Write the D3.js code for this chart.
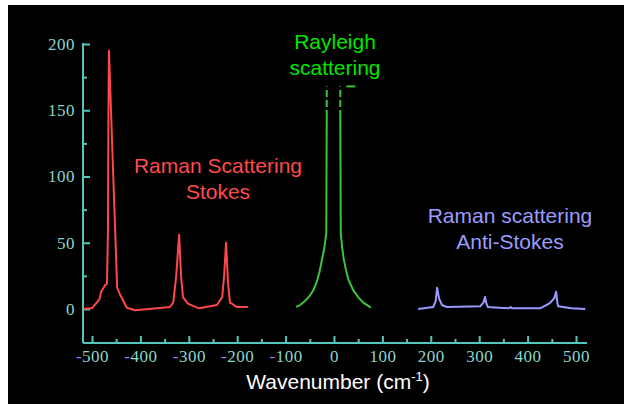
<!DOCTYPE html>
<html>
<head>
<meta charset="utf-8">
<script src="https://d3js.org/d3.v7.min.js"></script>
<style>
	body { margin: 0; background: #fff; }
	svg { display: block; }
	.tick text { font-family: "Liberation Serif", "DejaVu Serif", serif; font-size: 17px; letter-spacing: 0.5px; fill: #8cd5cb; }
	.tick line { stroke: #55c6bd; stroke-width: 2; }
	.note { font-family: "Liberation Sans", Arial, sans-serif; font-size: 21px; text-anchor: middle; }
</style>
</head>
<body>
<div id="chart"></div>
<script>
	// values
	var stokesX = [-518, -500, -485, -481, -473, -469, -467, -466, -465, -457, -448, -442, -428, -411, -339, -332, -326, -320, -316, -312, -302, -279, -242, -231, -227, -223, -219, -215, -201, -178];
	var stokesY = [0, 0.7, 7, 13, 18, 19, 60, 150, 195, 110, 16, 11, 1, -1, 1.5, 5, 25, 56, 25, 9, 4, 0.5, 3, 9, 25, 50, 20, 5, 1.5, 1.5];

	var rayLeftX = [-78, -70, -60, -50, -43, -36, -30, -25, -20, -16, -15];
	var rayLeftY = [1.5, 3, 6, 10, 14, 20, 28, 37, 46, 57, 145];
	var rayRightX = [13, 14, 17, 20, 25, 30, 40, 50, 60, 76];
	var rayRightY = [145, 57, 46, 38, 29, 22, 14, 9, 5, 1];
	var rayTopX = [-15, 13];      // off-scale part, dashed
	var rayTopY = [145, 168];

	var antiX = [174, 205, 210, 213, 217, 223, 233, 302, 309, 312, 315, 318, 340, 362, 365, 368, 426, 446, 455, 459, 461, 463, 490, 519];
	var antiY = [0, 1.5, 6, 16, 8, 3, 1.5, 2, 5, 9, 4, 1.5, 1, 0.5, 1.5, 0.5, 0.5, 4.5, 8, 13, 6, 2, 0.5, 0];

	var xTicks = [-500, -400, -300, -200, -100, 0, 100, 200, 300, 400, 500];
	var xMinor = [-450, -350, -250, -150, -50, 50, 150, 250, 350, 450];
	var yTicks = [0, 50, 100, 150, 200];
	var yMinor = [25, 75, 125, 175];

	var W = 624, H = 404;
	var svg = d3.select("#chart").append("svg").attr("width", W).attr("height", H);

	svg.append("rect").attr("x", 8).attr("y", 5).attr("width", W - 8).attr("height", H - 5).attr("fill", "#000");

	var x = d3.scaleLinear().domain([-500, 500]).range([92, 576]);
	var y = d3.scaleLinear().domain([0, 200]).range([309, 44]);
	var axisY = 343, axisX = 83;

	// axis lines
	svg.append("line").attr("x1", axisX).attr("x2", 587).attr("y1", axisY).attr("y2", axisY)
		.attr("stroke", "#55c6bd").attr("stroke-width", 2);
	svg.append("line").attr("x1", axisX).attr("x2", axisX).attr("y1", y(200) - 1).attr("y2", axisY)
		.attr("stroke", "#55c6bd").attr("stroke-width", 2);

	// x axis
	var gx = svg.append("g").attr("transform", "translate(0," + axisY + ")")
		.call(d3.axisBottom(x).tickValues(xTicks).tickSizeInner(-7).tickSizeOuter(0).tickPadding(7));
	svg.append("g").attr("transform", "translate(0," + axisY + ")")
		.call(d3.axisBottom(x).tickValues(xMinor).tickSizeInner(-4).tickSizeOuter(0).tickFormat(""));

	gx.selectAll(".tick text").each(function(d) {
		var t = d3.select(this).text("");
		if (d < 0) {
			t.append("tspan").attr("fill", "#8a8cff").text("-");
		}
		t.append("tspan").text(Math.abs(d));
	});

	// y axis
	svg.append("g").attr("transform", "translate(" + axisX + ",0)")
		.call(d3.axisLeft(y).tickValues(yTicks).tickSizeInner(-7).tickSizeOuter(0).tickPadding(8));
	svg.append("g").attr("transform", "translate(" + axisX + ",0)")
		.call(d3.axisLeft(y).tickValues(yMinor).tickSizeInner(-4).tickSizeOuter(0).tickFormat(""));

	svg.selectAll(".domain").remove();

	// curves
	var line = d3.line().x(function(d) { return x(d[0]); }).y(function(d) { return y(d[1]); });
	var zip = function(a, b) { return a.map(function(v, i) { return [v, b[i]]; }); };

	svg.append("path").datum(zip(stokesX, stokesY)).attr("d", line)
		.attr("fill", "none").attr("stroke", "#ff4848").attr("stroke-width", 2).attr("stroke-linejoin", "round");

	svg.append("path").datum(zip(rayLeftX, rayLeftY)).attr("d", line)
		.attr("fill", "none").attr("stroke", "#3cc43c").attr("stroke-width", 2);
	svg.append("path").datum(zip(rayRightX, rayRightY)).attr("d", line)
		.attr("fill", "none").attr("stroke", "#3cc43c").attr("stroke-width", 2);
	rayTopX.forEach(function(v) {
		svg.append("line").attr("x1", x(v)).attr("x2", x(v)).attr("y1", y(rayTopY[0])).attr("y2", y(rayTopY[1]))
			.attr("stroke", "#3cc43c").attr("stroke-width", 2).attr("stroke-dasharray", "7,3");
	});
	svg.append("line").attr("x1", x(rayTopX[1]) + 6).attr("x2", x(rayTopX[1]) + 15)
		.attr("y1", y(rayTopY[1])).attr("y2", y(rayTopY[1]))
		.attr("stroke", "#3cc43c").attr("stroke-width", 2);

	svg.append("path").datum(zip(antiX, antiY)).attr("d", line)
		.attr("fill", "none").attr("stroke", "#9a9aff").attr("stroke-width", 2).attr("stroke-linejoin", "round");

	// labels
	var note = function(cx, y0, lines, color) {
		lines.forEach(function(s, i) {
			svg.append("text").attr("class", "note").attr("x", cx).attr("y", y0 + i * 26)
				.attr("fill", color).text(s);
		});
	};
	note(335, 49, ["Rayleigh", "scattering"], "#00e600");
	note(218, 173, ["Raman Scattering", "Stokes"], "#ff4a4a");
	note(510, 223, ["Raman scattering", "Anti-Stokes"], "#9c9cff");

	var xt = svg.append("text").attr("class", "note").attr("x", 338).attr("y", 389).attr("fill", "#fff");
	xt.append("tspan").text("Wavenumber (cm");
	xt.append("tspan").attr("font-size", "13px").attr("dy", -8).text("-1");
	xt.append("tspan").attr("dy", 8).text(")");
</script>
</body>
</html>
